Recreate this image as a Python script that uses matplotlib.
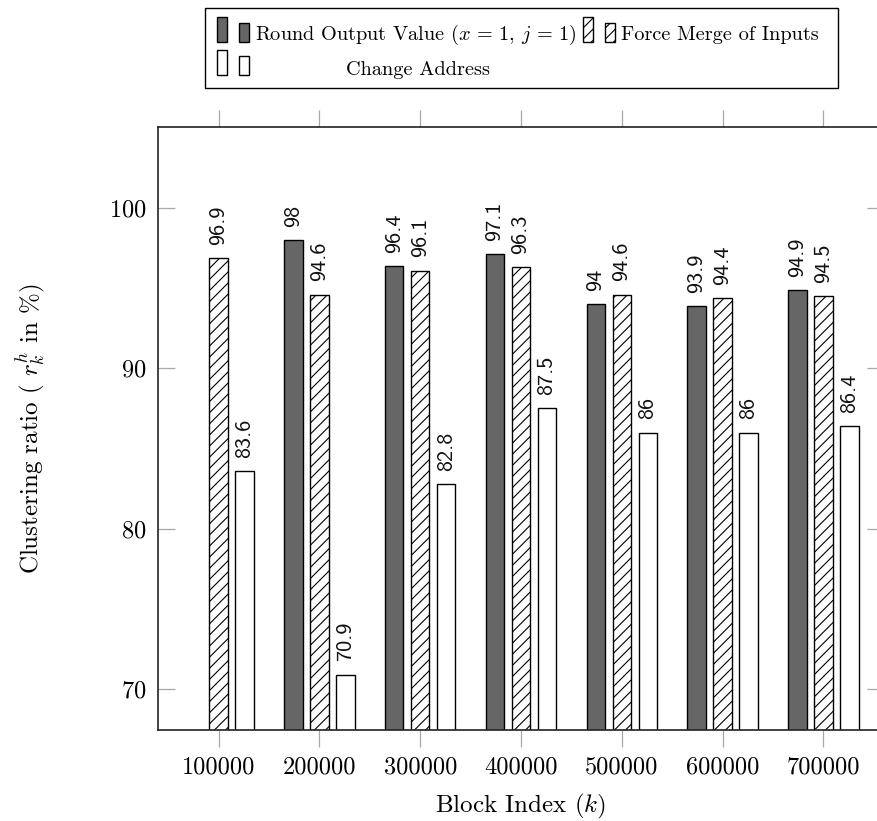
import numpy as np
import matplotlib
matplotlib.use('Agg')
import matplotlib.pyplot as plt
from matplotlib.patches import Rectangle

# ---------------- data ----------------
blocks = [100000, 200000, 300000, 400000, 500000, 600000, 700000]
tick_labels = ['100000', '200000', '300000', '400000', '500000', '600000', '700000']
round_output = [np.nan, 98, 96.4, 97.1, 94, 93.9, 94.9]
force_merge = [96.9, 94.6, 96.1, 96.3, 94.6, 94.4, 94.5]
change_address = [83.6, 70.9, 82.8, 87.5, 86, 86, 86.4]
series_names = [r'Round Output Value ($x\,=\,1$, $j\,=\,1$)', 'Force Merge of Inputs', 'Change Address']
y_ticks = [70, 80, 90, 100]

# ---------------- style ----------------
plt.rcParams['font.family'] = 'cmr10'
plt.rcParams['mathtext.fontset'] = 'cm'
plt.rcParams['axes.formatter.use_mathtext'] = True
plt.rcParams['hatch.linewidth'] = 0.8

W, H = 877, 821
fig = plt.figure(figsize=(W / 100, H / 100), dpi=100)
L, R, T, B = 158, 884, 127, 730
ax = fig.add_axes([L / W, 1 - B / H, (R - L) / W, (B - T) / H])

styles = [
    dict(facecolor='#666666', hatch=None),
    dict(facecolor='white', hatch='///'),
    dict(facecolor='white', hatch=None),
]
bw = 18400
offsets = [-25800, 0, 25800]
x = np.array(blocks, dtype=float)

for vals, dx, st in zip([round_output, force_merge, change_address], offsets, styles):
    ax.bar(x + dx, vals, width=bw, edgecolor='black', linewidth=1.0, zorder=2, **st)
    for xi, v in zip(x + dx, vals):
        if np.isnan(v):
            continue
        ax.annotate(f'{v:g}', (xi, v), xytext=(0, 9.5), textcoords='offset points',
                    rotation=90, ha='center', va='bottom', fontsize=16,
                    family='cmss10', color='#111111')

ax.set_xlim(39860, 760140)
ax.set_ylim(67.45, 105.05)
ax.set_xticks(blocks)
ax.set_xticklabels(tick_labels)
ax.set_yticks(y_ticks)
ax.tick_params(axis='x', direction='out', top=True, bottom=True, length=12,
               width=0.9, color='#a8a8a8', pad=7, labelsize=17.5)
ax.tick_params(axis='y', direction='in', left=True, right=True, length=12,
               width=0.9, color='#a8a8a8', pad=8.5, labelsize=17.5)
for sp in ax.spines.values():
    sp.set_linewidth(1.2)
    sp.set_color('#222222')

ax.set_xlabel('Block Index $(k)$', fontsize=18)
ax.set_ylabel('Clustering ratio ( $r_k^h$ in %)', fontsize=18)
ax.xaxis.set_label_coords(0.5, (B - 792) / (B - T))
ax.yaxis.set_label_coords((47 - L) / (R - L), 0.5)

# ---------------- legend (drawn manually, pgfplots style) ----------------
def fx(px):
    return px / W

def fy(py):
    return 1 - py / H

def frect(x0, y0, x1, y1, **kw):
    fig.add_artist(Rectangle((fx(x0), fy(y1)), fx(x1) - fx(x0), fy(y0) - fy(y1),
                             transform=fig.transFigure, **kw))

frect(205, 8, 838, 88, facecolor='none', edgecolor='black', linewidth=1.0)

legend_hatch = [None, '///', None]
icon_pos = [(217, 42), (583, 42), (217, 75)]
for st, lh, (ix, iy) in zip(styles, legend_hatch, icon_pos):
    frect(ix, iy - 25, ix + 10, iy, facecolor=st['facecolor'], edgecolor='black',
          linewidth=1.0, hatch=lh)
    frect(ix + 22, iy - 19, ix + 32, iy, facecolor=st['facecolor'], edgecolor='black',
          linewidth=1.0, hatch=lh)

text_pos = [(255, 40), (621, 40), (346, 75)]
for name, (tx, ty) in zip(series_names, text_pos):
    fig.text(fx(tx), fy(ty), name, ha='left', va='baseline', fontsize=14.6)

fig.savefig('out.png', dpi=100)
